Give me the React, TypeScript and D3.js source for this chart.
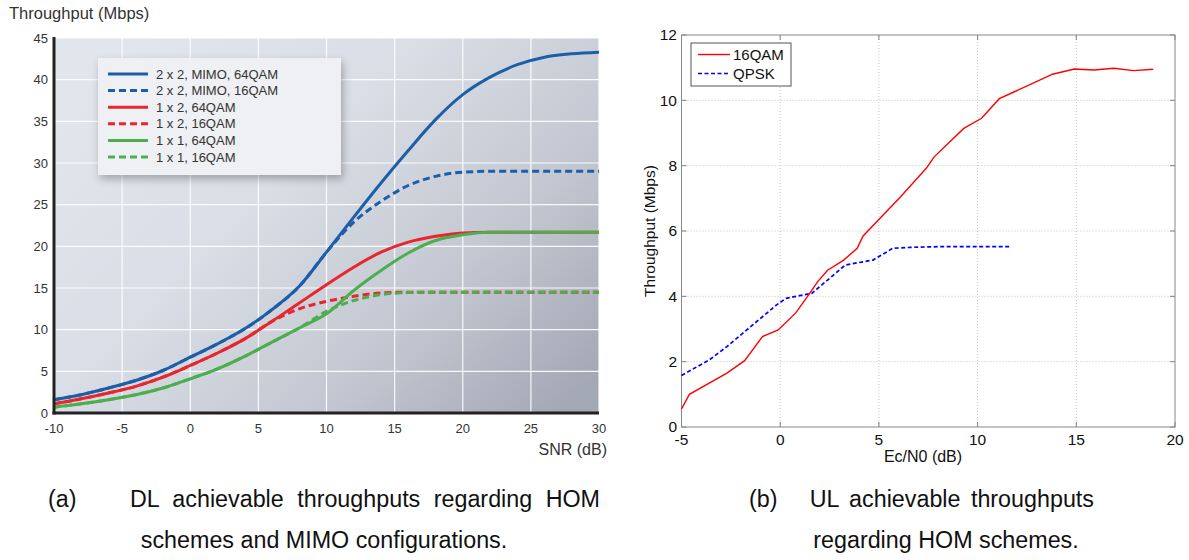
import React from "react";
import * as d3 from "d3";

// ---------- Chart (a) data ----------
const snr = [-10, -8, -6, -4, -2, 0, 2, 4, 6, 8, 10, 12, 14, 16, 18, 20, 22, 24, 26, 28, 30];
const mimo64 = [1.6, 2.2, 3.0, 3.9, 5.1, 6.7, 8.3, 10.1, 12.4, 15.2, 19.3, 23.5, 27.6, 31.5, 35.2, 38.2, 40.3, 41.8, 42.7, 43.1, 43.3];
const mimo16 = [1.6, 2.2, 3.0, 3.9, 5.1, 6.7, 8.3, 10.1, 12.4, 15.2, 19.3, 22.9, 25.4, 27.3, 28.4, 28.9, 29.0, 29.0, 29.0, 29.0, 29.0];
const x2q64 = [1.1, 1.7, 2.4, 3.2, 4.3, 5.7, 7.2, 8.9, 11.0, 13.2, 15.4, 17.5, 19.3, 20.5, 21.2, 21.6, 21.7, 21.7, 21.7, 21.7, 21.7];
const x2q16 = [1.1, 1.7, 2.4, 3.2, 4.3, 5.7, 7.2, 8.9, 11.0, 12.5, 13.4, 14.0, 14.4, 14.5, 14.5, 14.5, 14.5, 14.5, 14.5, 14.5, 14.5];
const x1q64 = [0.7, 1.1, 1.6, 2.2, 3.0, 4.1, 5.3, 6.8, 8.5, 10.2, 11.9, 14.7, 17.1, 19.2, 20.7, 21.4, 21.7, 21.7, 21.7, 21.7, 21.7];
const x1q16 = [0.7, 1.1, 1.6, 2.2, 3.0, 4.1, 5.3, 6.8, 8.5, 10.2, 12.2, 13.5, 14.2, 14.45, 14.5, 14.5, 14.5, 14.5, 14.5, 14.5, 14.5];
const dlLabels = ["2 x 2, MIMO, 64QAM", "2 x 2, MIMO, 16QAM", "1 x 2, 64QAM", "1 x 2, 16QAM", "1 x 1, 64QAM", "1 x 1, 16QAM"];
const dlColors = ["#1d5ea8", "#1d5ea8", "#e8262d", "#e8262d", "#4cae4f", "#4cae4f"];
const dlDashed = [false, true, false, true, false, true];
const dlSeries = [mimo64, mimo16, x2q64, x2q16, x1q64, x1q16];
const dlXTicks = [-10, -5, 0, 5, 10, 15, 20, 25, 30];
const dlYTicks = [0, 5, 10, 15, 20, 25, 30, 35, 40, 45];

// ---------- Chart (b) data ----------
const qam16X = [-5, -4.6, -2.7, -1.8, -0.9, -0.1, 0.8, 1.5, 1.9, 2.4, 3.2, 3.9, 4.2, 6.1, 7.4, 7.8, 9.3, 10.2, 11.1, 13.8, 14.9, 15.9, 16.9, 17.9, 18.9];
const qam16Y = [0.55, 1.0, 1.65, 2.03, 2.77, 2.97, 3.5, 4.1, 4.45, 4.8, 5.1, 5.47, 5.85, 7.05, 7.92, 8.27, 9.14, 9.45, 10.05, 10.8, 10.96, 10.93, 10.98, 10.91, 10.95];
const qpskX = [-5, -3.6, -2.7, -1.6, -0.2, 0.3, 1.6, 2.5, 3.3, 4.7, 5.7, 6.6, 8, 10, 11.7];
const qpskY = [1.58, 2.05, 2.46, 3.02, 3.73, 3.94, 4.09, 4.55, 4.96, 5.11, 5.47, 5.5, 5.52, 5.52, 5.52];
const ulXTicks = [-5, 0, 5, 10, 15, 20];
const ulYTicks = [0, 2, 4, 6, 8, 10, 12];

const FONT = "'Liberation Sans', Arial, Helvetica, sans-serif";

function ChartA() {
  const x = d3.scaleLinear().domain([-10, 30]).range([54, 599]);
  const y = d3.scaleLinear().domain([0, 45]).range([413, 38]);
  const line = d3
    .line<number>()
    .x((_, i) => x(snr[i]))
    .y((d) => y(d))
    .curve(d3.curveMonotoneX);
  return (
    <g fontFamily={FONT}>
      <defs>
        <linearGradient id="bgA" x1="0" y1="0.2" x2="1" y2="0.9">
          <stop offset="0" stopColor="#e1e5ec" />
          <stop offset="0.35" stopColor="#dadee6" />
          <stop offset="0.7" stopColor="#c3c7d1" />
          <stop offset="1" stopColor="#a3a8b5" />
        </linearGradient>
        <filter id="shadow" x="-20%" y="-20%" width="140%" height="150%">
          <feDropShadow dx="2" dy="4" stdDeviation="4" floodColor="#000" floodOpacity="0.28" />
        </filter>
      </defs>
      <rect x={x(-10)} y={y(45)} width={x(30) - x(-10)} height={y(0) - y(45)} fill="url(#bgA)" />
      {dlXTicks.slice(1).map((t) => (
        <line key={"gx" + t} x1={x(t)} x2={x(t)} y1={y(0)} y2={y(45)} stroke="#fff" strokeWidth={1.2} opacity={0.9} />
      ))}
      {dlYTicks.slice(1).map((t) => (
        <line key={"gy" + t} x1={x(-10)} x2={x(30)} y1={y(t)} y2={y(t)} stroke="#fff" strokeWidth={1.2} opacity={0.9} />
      ))}
      {dlSeries.map((s, i) => (
        <path
          key={"s" + i}
          d={line(s) || ""}
          fill="none"
          stroke={dlColors[i]}
          strokeWidth={3}
          strokeDasharray={dlDashed[i] ? "7,4" : undefined}
        />
      ))}
      <line x1={x(-10)} x2={x(-10)} y1={y(45) - 1} y2={y(0) + 1.5} stroke="#222" strokeWidth={3} />
      <line x1={x(-10) - 1.5} x2={x(30)} y1={y(0)} y2={y(0)} stroke="#222" strokeWidth={3} />
      {dlYTicks.map((t) => (
        <text key={"yl" + t} x={48} y={y(t)} dy="0.35em" textAnchor="end" fontSize={13} fill="#333">
          {t}
        </text>
      ))}
      {dlXTicks.map((t) => (
        <text key={"xl" + t} x={x(t)} y={433} textAnchor="middle" fontSize={13} fill="#333">
          {t}
        </text>
      ))}
      <text x={9} y={19} fontSize={16.5} fill="#333">Throughput (Mbps)</text>
      <text x={607} y={455} fontSize={16} fill="#333" textAnchor="end">SNR (dB)</text>
      <g filter="url(#shadow)">
        <rect x={98} y={58} width={243} height={117} fill="#eef0f4" />
      </g>
      {dlLabels.map((lab, i) => {
        const yy = 74 + i * 16.6;
        return (
          <g key={"lg" + i}>
            <line x1={108} x2={148} y1={yy} y2={yy} stroke={dlColors[i]} strokeWidth={3} strokeDasharray={dlDashed[i] ? "7,4" : undefined} />
            <text x={156} y={yy} dy="0.36em" fontSize={13} fill="#333">
              {lab}
            </text>
          </g>
        );
      })}
    </g>
  );
}

function ChartB() {
  const x = d3.scaleLinear().domain([-5, 20]).range([681.5, 1175]);
  const y = d3.scaleLinear().domain([0, 12]).range([427, 35]);
  const lineRed = d3
    .line<number>()
    .x((_, i) => x(qam16X[i]))
    .y((d) => y(d));
  const lineBlue = d3
    .line<number>()
    .x((_, i) => x(qpskX[i]))
    .y((d) => y(d));
  const x0 = x(-5), x1 = x(20), y0 = y(0), y1 = y(12);
  return (
    <g fontFamily={FONT}>
      <rect x={x0} y={y1} width={x1 - x0} height={y0 - y1} fill="#fff" />
      {ulXTicks.slice(1, -1).map((t) => (
        <line key={"gx" + t} x1={x(t)} x2={x(t)} y1={y0} y2={y1} stroke="#c4c4c4" strokeWidth={1} strokeDasharray="1,2" />
      ))}
      {ulYTicks.slice(1, -1).map((t) => (
        <line key={"gy" + t} x1={x0} x2={x1} y1={y(t)} y2={y(t)} stroke="#c4c4c4" strokeWidth={1} strokeDasharray="1,2" />
      ))}
      {ulXTicks.map((t) => (
        <g key={"tx" + t}>
          <line x1={x(t)} x2={x(t)} y1={y0} y2={y0 - 5} stroke="#808080" />
          <line x1={x(t)} x2={x(t)} y1={y1} y2={y1 + 5} stroke="#808080" />
        </g>
      ))}
      {ulYTicks.map((t) => (
        <g key={"ty" + t}>
          <line x1={x0} x2={x0 + 5} y1={y(t)} y2={y(t)} stroke="#808080" />
          <line x1={x1} x2={x1 - 5} y1={y(t)} y2={y(t)} stroke="#808080" />
        </g>
      ))}
      <rect x={x0} y={y1} width={x1 - x0} height={y0 - y1} fill="none" stroke="#888" strokeWidth={1} />
      <path d={lineBlue(qpskY) || ""} fill="none" stroke="#0000ff" strokeWidth={1.7} strokeDasharray="4,2.5" />
      <path d={lineRed(qam16Y) || ""} fill="none" stroke="#ff0000" strokeWidth={1.4} />
      {ulYTicks.map((t) => (
        <text key={"yl" + t} x={677} y={y(t)} dy="0.35em" textAnchor="end" fontSize={15.5} fill="#111">
          {t}
        </text>
      ))}
      {ulXTicks.map((t) => (
        <text key={"xl" + t} x={x(t)} y={445} textAnchor="middle" fontSize={15.5} fill="#111">
          {t}
        </text>
      ))}
      <text x={923} y={462} textAnchor="middle" fontSize={16} fill="#111">Ec/N0 (dB)</text>
      <text transform="translate(655,231) rotate(-90)" textAnchor="middle" fontSize={15.5} fill="#111">Throughput (Mbps)</text>
      <rect x={691} y={43} width={100} height={43} fill="#fff" stroke="#555" strokeWidth={1} />
      <line x1={698} x2={730} y1={54.5} y2={54.5} stroke="#ff0000" strokeWidth={1.4} />
      <text x={733} y={54.5} dy="0.36em" fontSize={15} fill="#111">16QAM</text>
      <line x1={698} x2={730} y1={73.5} y2={73.5} stroke="#0000ff" strokeWidth={1.7} strokeDasharray="4,2.5" />
      <text x={733} y={73.5} dy="0.36em" fontSize={15} fill="#111">QPSK</text>
    </g>
  );
}

export default function App() {
  return (
    <svg width={1189} height={560} style={{ position: "absolute", left: 0, top: 0, background: "#fff" }}>
      <rect width={1189} height={560} fill="#fff" />
      <ChartA />
      <ChartB />
      <g fontFamily={FONT} fontSize={23.3} fill="#111">
        <text x={48} y={507}>(a)</text>
        <text x={600} y={507} textAnchor="end" wordSpacing={7}>DL achievable throughputs regarding HOM</text>
        <text x={324} y={548} textAnchor="middle">schemes and MIMO configurations.</text>
        <text x={749} y={507}>(b)</text>
        <text x={1094} y={507} textAnchor="end" wordSpacing={4}>UL achievable throughputs</text>
        <text x={946} y={548} textAnchor="middle">regarding HOM schemes.</text>
      </g>
    </svg>
  );
}
